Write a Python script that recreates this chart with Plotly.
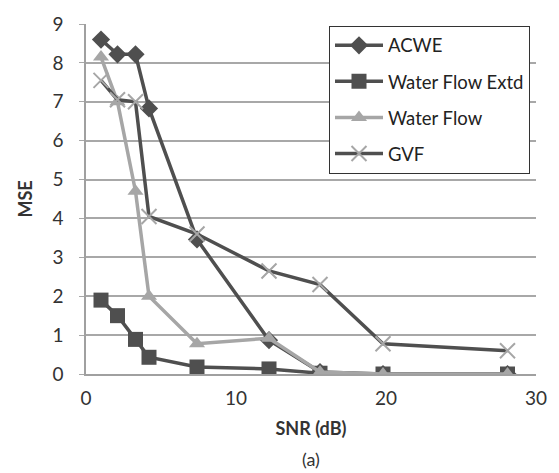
import plotly.graph_objects as go

snr = [1.0, 2.1, 3.3, 4.2, 7.4, 12.2, 15.6, 19.8, 28.1]
acwe = [8.6, 8.22, 8.22, 6.83, 3.46, 0.87, 0.05, 0.0, 0.0]
wf_extd = [1.9, 1.5, 0.89, 0.43, 0.18, 0.13, 0.02, 0.0, 0.0]
wf = [8.15, 7.0, 4.7, 2.0, 0.78, 0.92, 0.05, 0.0, 0.0]
gvf = [7.55, 7.05, 7.0, 4.05, 3.6, 2.65, 2.3, 0.78, 0.6]

series_names = ["ACWE", "Water Flow Extd", "Water Flow", "GVF"]

dark = "#4f4f4f"
light = "#a6a6a6"
FONT = "Lato"

fig = go.Figure()
fig.add_trace(go.Scatter(x=snr, y=acwe, name=series_names[0], mode="lines+markers",
                         line=dict(color=dark, width=3.5),
                         marker=dict(symbol="diamond", size=14, color=dark),
                         legendgroup="a"))
fig.add_trace(go.Scatter(x=snr, y=wf_extd, name=series_names[1], mode="lines+markers",
                         line=dict(color=dark, width=3.5),
                         marker=dict(symbol="square", size=15, color=dark),
                         legendgroup="b"))
fig.add_trace(go.Scatter(x=snr, y=wf, name=series_names[2], mode="lines+markers",
                         line=dict(color=light, width=3.5),
                         marker=dict(symbol="triangle-up", size=14, color=light),
                         legendgroup="c"))
fig.add_trace(go.Scatter(x=snr, y=gvf, name=series_names[3], mode="lines+markers",
                         line=dict(color=dark, width=3.5),
                         marker=dict(symbol="x-thin-open", size=15, color=light,
                                     line=dict(color=light, width=2)),
                         legendgroup="d"))

fig.update_layout(
    width=559, height=473,
    margin=dict(l=86, r=14, t=20, b=99),
    paper_bgcolor="white", plot_bgcolor="white",
    font=dict(family=FONT, size=17, color="#333333"),
    showlegend=True,
    legend=dict(x=0.54, y=0.995, xanchor="left", yanchor="top",
                bordercolor="#333333", borderwidth=1, bgcolor="white",
                font=dict(size=18.5, family=FONT, color="#222222"),
                tracegroupgap=9, itemwidth=48),
    xaxis=dict(range=[0, 30], tickvals=[0, 10, 20, 30], showgrid=False,
               showline=True, linecolor="#a0a0a0", linewidth=1.5,
               zeroline=False, ticks="", tickfont=dict(size=19),
               ticklabelstandoff=6,
               title=dict(text="<b>SNR (dB)</b>", font=dict(size=18), standoff=15)),
    yaxis=dict(range=[0, 9], tickvals=list(range(10)), showgrid=True,
               gridcolor="#a8a8a8", gridwidth=1.5,
               showline=True, linecolor="#a0a0a0", linewidth=1.5,
               zeroline=False, ticks="outside", ticklen=5, tickcolor="#a8a8a8",
               tickfont=dict(size=19), ticklabelstandoff=12,
               title=dict(text="<b>MSE</b>", font=dict(size=18), standoff=15)),
    annotations=[dict(text="(a)", x=0.5, y=-0.243, xref="paper", yref="paper",
                      showarrow=False, font=dict(size=18, family=FONT, color="#333333"),
                      xanchor="center", yanchor="middle")],
)

fig.write_html("out.html", config={"displayModeBar": False},
               post_script="document.body.style.margin='0';document.body.style.overflow='hidden';")
